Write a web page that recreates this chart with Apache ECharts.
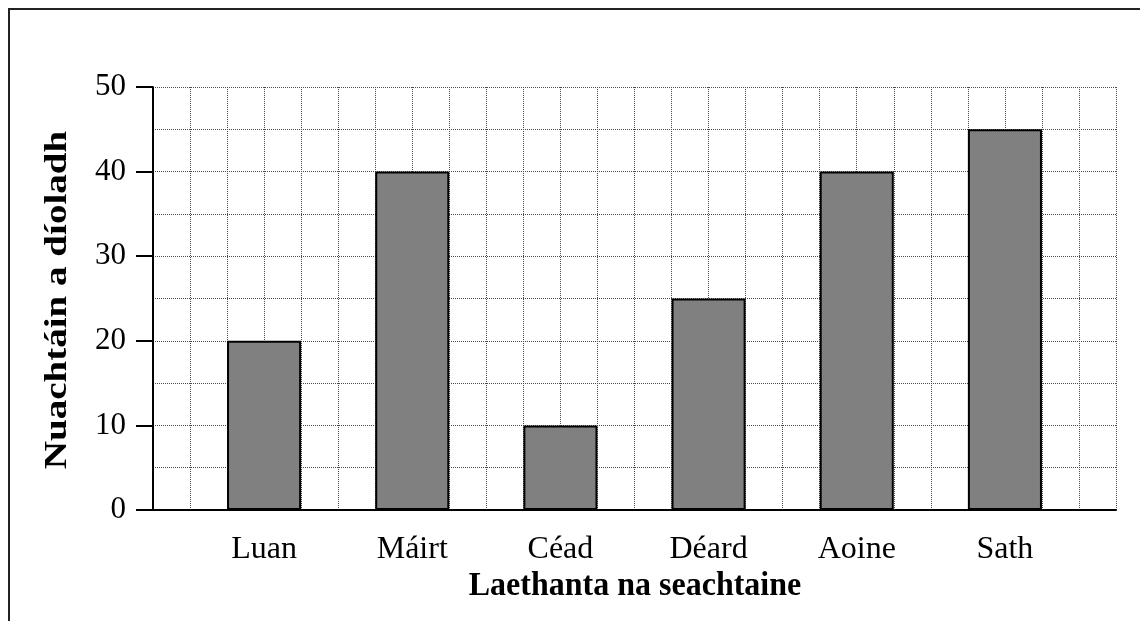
<!DOCTYPE html>
<html>
<head>
<meta charset="utf-8">
<script src="https://cdn.jsdelivr.net/npm/echarts@6/dist/echarts.min.js"></script>
<style>
  html, body { margin: 0; padding: 0; background: #fff; }
  #main { width: 1140px; height: 621px; }
</style>
</head>
<body>
<div id="main"></div>
<script>
// data
var days = ['Luan', 'Máirt', 'Céad', 'Déard', 'Aoine', 'Sath'];
var sold = [20, 40, 10, 25, 40, 45];
var xTitle = 'Laethanta na seachtaine';
var yTitle = 'Nuachtáin a díoladh';

var font = 'Liberation Serif';
var dots = { color: '#4a4a4a', type: [1, 1], width: 1 };

var myChart = echarts.init(document.getElementById('main'));

var option = {
    animation: false,
    backgroundColor: '#fff',
    graphic: [{
        type: 'rect',
        shape: { x: 9, y: 9, width: 1200, height: 700 },
        style: { fill: 'none', stroke: '#222', lineWidth: 2 },
        silent: true
    }, {
        type: 'text',
        x: 635, y: 586,
        scaleY: 1.08,
        style: {
            text: xTitle, font: 'bold 32px "' + font + '"',
            fill: '#000', align: 'center', verticalAlign: 'middle'
        }
    }, {
        type: 'text',
        x: 58, y: 300,
        rotation: Math.PI / 2,
        scaleX: 1.22,
        style: {
            text: yTitle, font: 'bold 32px "' + font + '"',
            fill: '#000', align: 'center', verticalAlign: 'middle'
        }
    }],
    grid: [
        // grid lines + axes
        { left: 153, right: 24, top: 87, bottom: 111 },
        // bars (band starts one grid cell in)
        { left: 190, right: 61, top: 87, bottom: 111 }
    ],
    xAxis: [{
        gridIndex: 0,
        type: 'value',
        min: 0, max: 26, interval: 1,
        axisLine: { show: true, onZero: false, lineStyle: { color: '#000', width: 2 } },
        axisTick: { show: false },
        axisLabel: { show: false },
        splitLine: { show: true, lineStyle: dots }
    }, {
        gridIndex: 1,
        type: 'category',
        data: days,
        axisLine: { show: false },
        axisTick: { show: false },
        axisLabel: { color: '#000', fontFamily: font, fontSize: 32, margin: 24 }
    }],
    yAxis: [{
        gridIndex: 0,
        type: 'value',
        min: 0, max: 50, interval: 10,
        axisLine: { show: true, lineStyle: { color: '#000', width: 2 } },
        axisTick: { show: true, length: 17, lineStyle: { color: '#000', width: 2 } },
        axisLabel: { color: '#000', fontFamily: font, fontSize: 31, margin: 27 },
        splitLine: { show: true, lineStyle: dots },
        minorTick: { show: false, splitNumber: 2 },
        minorSplitLine: { show: true, lineStyle: dots }
    }, {
        gridIndex: 1,
        type: 'value',
        min: 0, max: 50,
        show: false,
        splitLine: { show: false }
    }],
    series: [{
        type: 'bar',
        xAxisIndex: 1,
        yAxisIndex: 1,
        data: sold,
        barWidth: '50%',
        itemStyle: { color: '#808080', borderColor: '#000', borderWidth: 2 }
    }]
};

myChart.setOption(option);
</script>
</body>
</html>
